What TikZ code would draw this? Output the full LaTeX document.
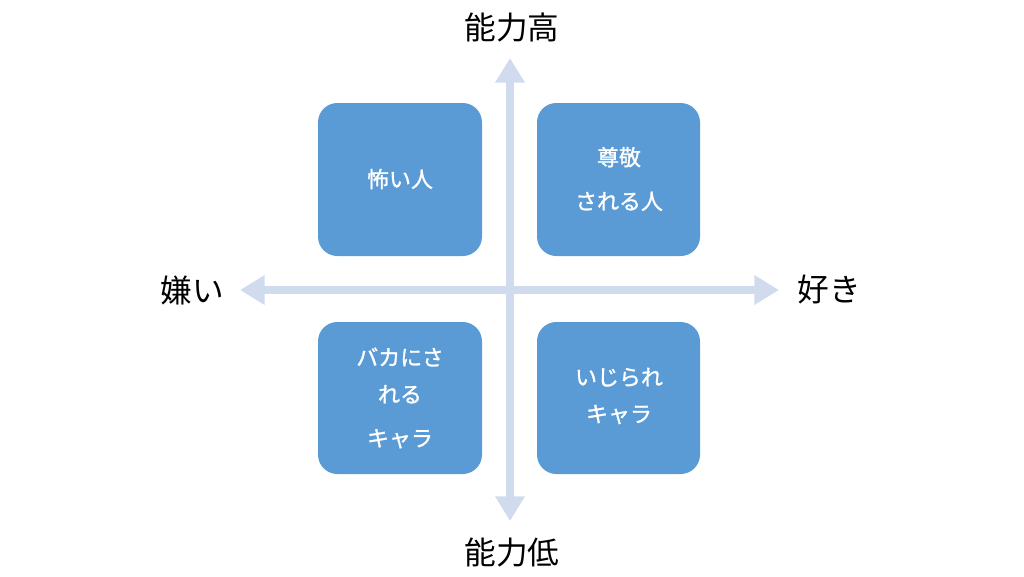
\documentclass[tikz,border=0pt]{standalone}
\usepackage{fontspec}
\newfontfamily\cjk{Noto Sans CJK JP}
\newfontfamily\cjkb[FakeBold=1.2]{Noto Sans CJK JP}
\usetikzlibrary{arrows.meta}
\definecolor{boxc}{HTML}{5B9BD5}
\definecolor{axc}{HTML}{D0DCEE}
\begin{document}
\begin{tikzpicture}[x=0.02cm,y=-0.02cm,
  box/.style={fill=boxc,rounded corners=11pt,draw=none},
  btxt/.style={text=white,font=\cjkb\fontsize{12.5}{21}\selectfont,align=center},
  lab/.style={font=\cjk\fontsize{18}{20}\selectfont},
  ax/.style={draw=axc,line width=5pt,-{Triangle[width=16pt,length=14pt]}}]
\useasboundingbox (0,0) rectangle (1024,576);
\coordinate (c) at (510,290);
\coordinate (t) at (510,58);
\coordinate (b) at (510,521);
\coordinate (l) at (240,290);
\coordinate (r) at (779,290);
\draw[ax] (c) -- (t);
\draw[ax] (c) -- (b);
\draw[ax] (c) -- (l);
\draw[ax] (c) -- (r);
\fill[box] (318,103) rectangle (482,256);
\fill[box] (537,103) rectangle (700,256);
\fill[box] (318,322) rectangle (482,474);
\fill[box] (537,322) rectangle (700,474);
\node[btxt] (b1) at (400,179) {怖い人};
\node[btxt,align=center] (b2) at (619,179) {尊敬\\[4pt]される人};
\node[btxt] (b3) at (400,398) {バカにさ\\れる\\[4pt]キャラ};
\node[btxt] (b4) at (619,396) {いじられ\\キャラ};
\node[lab] (n1) at (512,28) {能力高};
\node[lab] (n2) at (512,553) {能力低};
\node[lab] (n3) at (192,290) {嫌い};
\node[lab] (n4) at (829,290) {好き};
\end{tikzpicture}
\end{document}
